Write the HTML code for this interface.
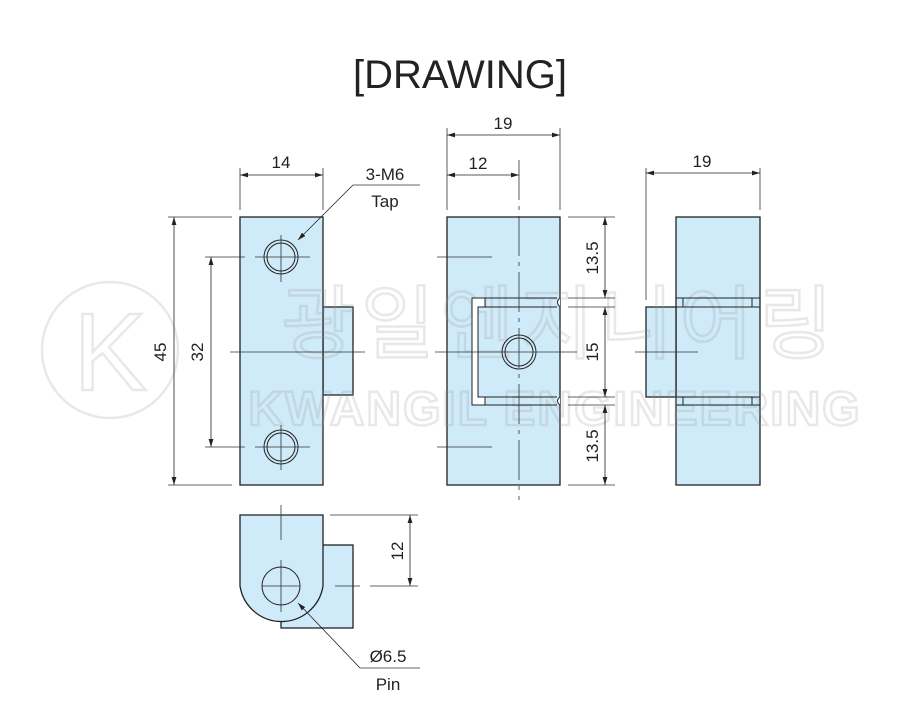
<!DOCTYPE html>
<html><head><meta charset="utf-8"><style>
body{margin:0;background:#fff;width:921px;height:700px;overflow:hidden}
svg text{font-family:"Liberation Sans",sans-serif;fill:#222}
</style></head><body>
<svg width="921" height="700" viewBox="0 0 921 700" xmlns="http://www.w3.org/2000/svg">
<defs>
<marker id="a" viewBox="0 0 10 6" refX="10" refY="3" markerWidth="10" markerHeight="6" orient="auto-start-reverse"><path d="M0,0L10,3L0,6z" fill="#222"/></marker>
</defs>
<text x="460" y="88" font-size="40" text-anchor="middle">[DRAWING]</text>

<g stroke="#222" stroke-width="1.3" fill="#cfeaf8">
<rect x="323" y="307" width="30" height="88"/>
<rect x="240" y="217" width="83" height="268"/>
<rect x="447" y="217" width="113" height="268"/>
<rect x="676" y="217" width="84" height="268"/>
<rect x="646" y="307" width="30" height="90"/>
<rect x="281" y="545" width="72" height="83"/>
<path d="M240,515H323V586A42,42 0 0 1 240,586Z"/>
</g>

<!-- watermark -->
<g opacity="0.22" fill="none" stroke="#999" stroke-width="2.5">
<circle cx="110" cy="350" r="68"/>
<text x="110" y="390" font-size="110" text-anchor="middle" style="fill:none;stroke:#999;stroke-width:2.5">K</text>
<text x="560" y="352" font-size="80" text-anchor="middle" style="fill:none;stroke:#999;stroke-width:2.5;font-family:'Noto Sans CJK KR',sans-serif" letter-spacing="6">광일엔지니어링</text>
<text x="555" y="425" font-size="48" font-weight="bold" text-anchor="middle" style="fill:none;stroke:#999;stroke-width:2.5" letter-spacing="2">KWANGIL ENGINEERING</text>
</g>

<g fill="none" stroke="#222" stroke-width="1">
<circle cx="281" cy="257" r="17"/><circle cx="281" cy="257" r="14"/>
<circle cx="281" cy="447" r="17"/><circle cx="281" cy="447" r="14"/>
<circle cx="519" cy="352" r="17"/><circle cx="519" cy="352" r="14"/>
<circle cx="281" cy="586" r="19"/>
<path d="M485,298H472V405H485V397H478V307H485Z" fill="#fff"/>
<path d="M485,298H557M478,307H557M478,397H557M485,405H557"/>
<path d="M560,298Q555,302 560,307M560,397Q555,401 560,405" fill="#fff"/>
<path d="M676,298H760M676,307H760M676,397H760M676,405H760M683,298V307M752,298V307M683,397V405M752,397V405"/>
</g>
<g fill="none" stroke="#333" stroke-width="0.8">
<path d="M230,352H365M255,257H310M281,235V282M255,447H310M281,425V470M205,257H245M205,447H245"/>
<path d="M519,160V500" stroke-dasharray="40,6,4,6"/>
<path d="M435,352H577M437,257H492M437,447H492"/>
<path d="M635,352H698"/>
<path d="M281,505V540M281,560V612M262,586H300M335,586H360M370,586H418"/>
<path d="M240,168V210M323,168V210M168,217H232M168,485H232"/>
<path d="M447,128V210M560,128V210M568,217H615M568,298H615M568,307H615M568,397H615M568,405H615M568,485H615"/>
<path d="M646,168V300M760,168V210"/>
<path d="M330,515H418"/>
<path d="M353,185H420"/>
<path d="M360,668H420"/>
</g>
<g stroke="#222" stroke-width="0.8" fill="none">
<path d="M240,175H323" marker-start="url(#a)" marker-end="url(#a)"/>
<path d="M174,217V485" marker-start="url(#a)" marker-end="url(#a)"/>
<path d="M211,257V447" marker-start="url(#a)" marker-end="url(#a)"/>
<path d="M447,135H560" marker-start="url(#a)" marker-end="url(#a)"/>
<path d="M447,175H519" marker-start="url(#a)" marker-end="url(#a)"/>
<path d="M605,217V298" marker-start="url(#a)" marker-end="url(#a)"/>
<path d="M605,307V397" marker-start="url(#a)" marker-end="url(#a)"/>
<path d="M605,405V485" marker-start="url(#a)" marker-end="url(#a)"/>
<path d="M646,173H760" marker-start="url(#a)" marker-end="url(#a)"/>
<path d="M410,515V586" marker-start="url(#a)" marker-end="url(#a)"/>
<path d="M353,185L298,240" marker-end="url(#a)"/>
<path d="M360,668L298,603" marker-end="url(#a)"/>
</g>
<g font-size="17">
<text x="281" y="168" text-anchor="middle">14</text>
<text x="385" y="180" text-anchor="middle">3-M6</text>
<text x="385" y="207" text-anchor="middle">Tap</text>
<text transform="translate(166,352) rotate(-90)" text-anchor="middle">45</text>
<text transform="translate(203,352) rotate(-90)" text-anchor="middle">32</text>
<text x="503" y="129" text-anchor="middle">19</text>
<text x="478" y="169" text-anchor="middle">12</text>
<text transform="translate(598,258) rotate(-90)" text-anchor="middle">13.5</text>
<text transform="translate(598,352) rotate(-90)" text-anchor="middle">15</text>
<text transform="translate(598,446) rotate(-90)" text-anchor="middle">13.5</text>
<text x="702" y="167" text-anchor="middle">19</text>
<text transform="translate(403,551) rotate(-90)" text-anchor="middle">12</text>
<text x="388" y="662" text-anchor="middle">Ø6.5</text>
<text x="388" y="690" text-anchor="middle">Pin</text>
</g>
</svg>
</body></html>
